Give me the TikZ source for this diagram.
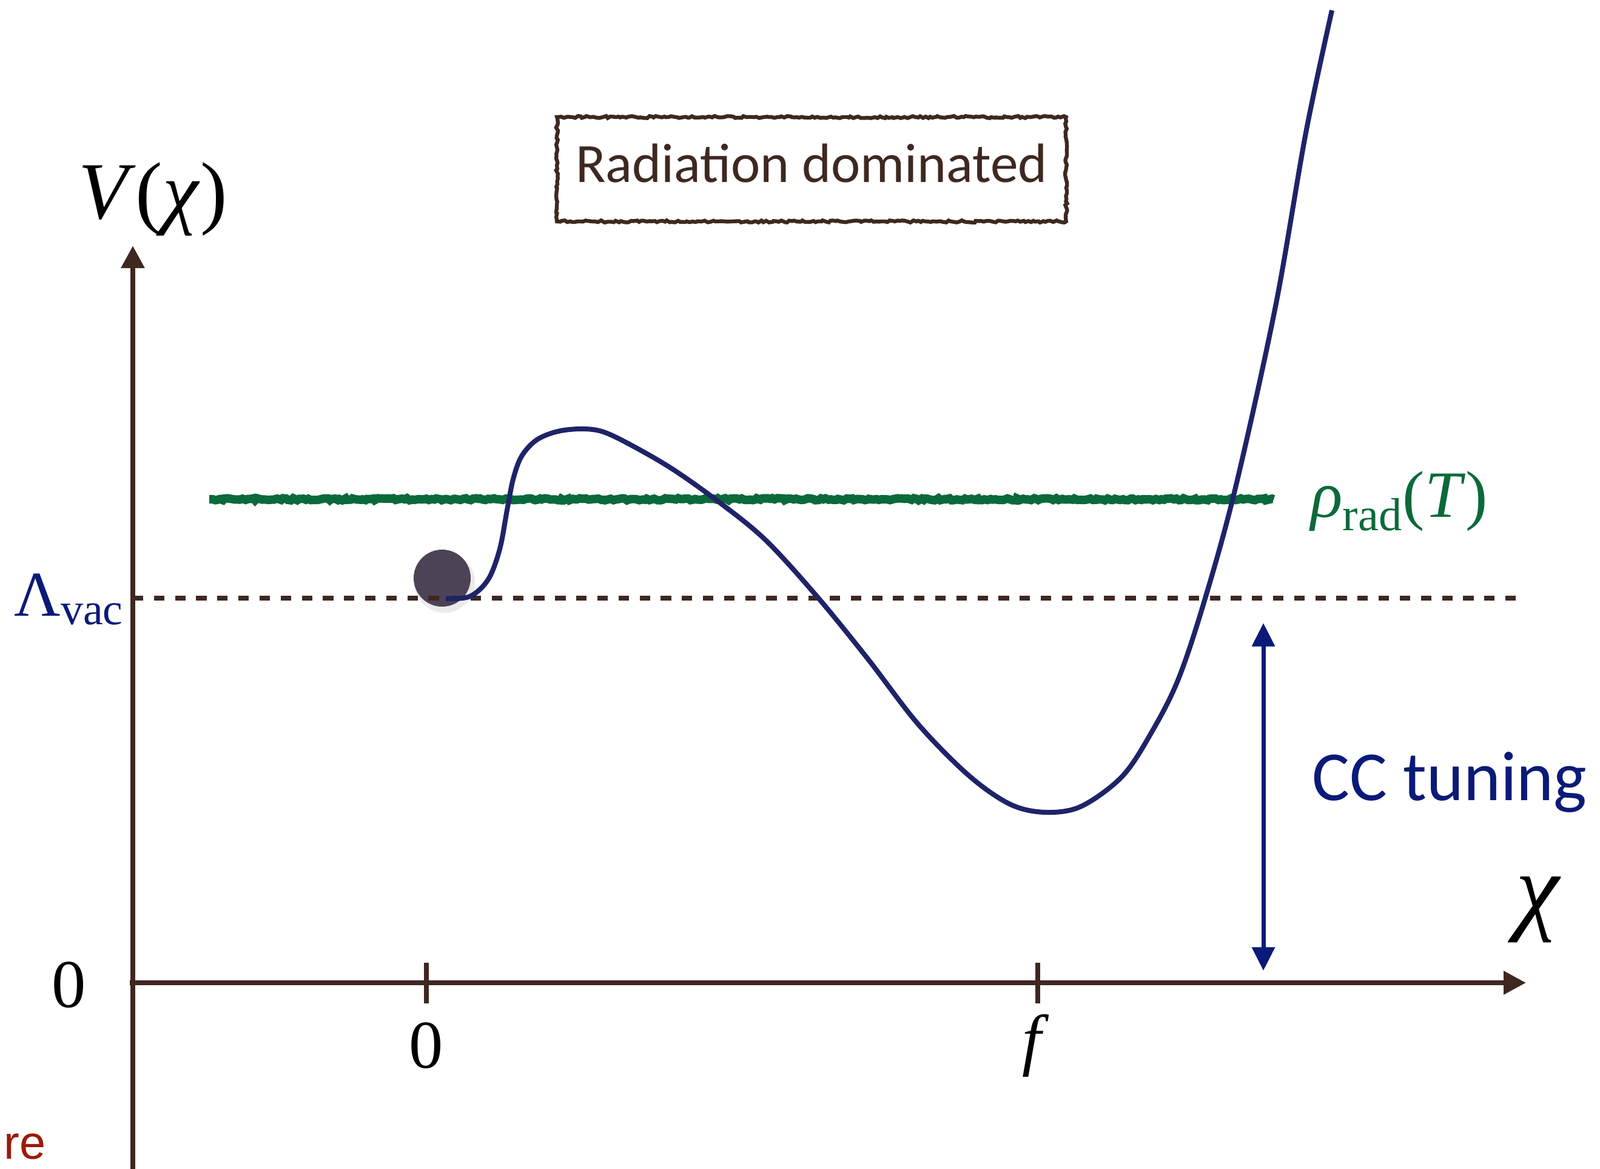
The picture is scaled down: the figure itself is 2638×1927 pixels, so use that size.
\documentclass[tikz,border=0pt]{standalone}
\usepackage{fontspec}
\usepackage{xcolor}
\usepackage{tikz}
\usetikzlibrary{positioning, arrows.meta, calc, decorations.pathmorphing}
\newfontfamily\handfont{Carlito}
\newfontfamily\helvfont{Liberation Sans}
\newfontfamily\timesfont{Liberation Serif}
\definecolor{axisbrown}{HTML}{3E2820}
\definecolor{curvenavy}{HTML}{1F2368}
\definecolor{tunenavy}{HTML}{0A1A78}
\definecolor{radgreen}{HTML}{0B6A3A}
\definecolor{ballgrey}{HTML}{4C4357}
\definecolor{cutred}{HTML}{9A1A0A}

\begin{document}
\begin{tikzpicture}[x=0.01cm, y=-0.01cm,
    axis/.style={draw=axisbrown, line width=2.5pt, -{Triangle[length=10.5pt, width=10.5pt]}},
    tickmark/.style={draw=axisbrown, line width=2.5pt},
    mathlabel/.style={inner sep=0pt, font=\timesfont\fontsize{32}{36}\selectfont},
    rough/.style={decorate, decoration={random steps, segment length=1.2pt, amplitude=0.5pt}}]
  \useasboundingbox (0,0) rectangle (2638,1927);

  % axes
  \coordinate (ybot) at (219,1927);
  \coordinate (ytop) at (219,405);
  \coordinate (xleft) at (214,1620);
  \coordinate (xright) at (2516,1620);
  \draw[axis] (ybot) -- (ytop);
  \draw[axis] (xleft) -- (xright);
  \coordinate (tickzero) at (703,1620);
  \coordinate (tickf) at (1711,1620);
  \draw[tickmark] ($(tickzero)+(0,-33)$) -- ($(tickzero)+(0,34)$);
  \draw[tickmark] ($(tickf)+(0,-33)$) -- ($(tickf)+(0,34)$);

  \node[mathlabel, font=\timesfont\fontsize{38}{42}\selectfont] (vlabel) at (252,328) {\textit{V}(\textit{χ})};
  \node[mathlabel, font=\timesfont\fontsize{46}{50}\selectfont] (chilabel) at (2537,1500) {\textit{χ}};
  \node[mathlabel] (zeroleft) at (114,1624) {0};
  \node[mathlabel] (zerotick) at (703,1724) {0};
  \node[mathlabel] (flabel) at (1708,1724) {\textit{f}};

  % ball sitting in the false vacuum
  \fill[black, opacity=0.08] (733,960) circle (50);
  \fill[ballgrey] (729,953) circle (47);

  % vacuum energy and radiation levels
  \coordinate (vacl) at (219,986);
  \coordinate (vacr) at (2510,986);
  \draw[axisbrown, line width=2.5pt, dash pattern=on 4.9pt off 5pt] (vacl) -- (vacr);
  \node[mathlabel, text=tunenavy, font=\timesfont\fontsize{30}{34}\selectfont] (lvac) at (114,988) {Λ\textsubscript{vac}};

  \coordinate (radl) at (345,823);
  \coordinate (radr) at (2100,823);
  \draw[radgreen, line width=4pt, rough] (radl) -- (radr);
  \node[mathlabel, text=radgreen, font=\timesfont\fontsize{31}{35}\selectfont] (rholabel) at (2307,826) {\textit{ρ}\textsubscript{rad}(\textit{T})};

  % potential
  \draw[curvenavy, line width=2.3pt] plot[smooth, tension=0.55] coordinates {
    (735,987) (775,983) (805,955) (824,905) (836,841) (846,790) (860,752)
    (885,725) (920,711) (960,707) (995,712) (1043,735) (1110,774) (1186,828)
    (1262,890) (1346,982) (1430,1085) (1514,1194) (1598,1279) (1666,1326)
    (1724,1339) (1783,1329) (1851,1279) (1901,1203) (1943,1119) (1985,993)
    (2036,808) (2103,505) (2153,219) (2196,17)};

  % tuning arrow
  \coordinate (tunetop) at (2083,1027);
  \coordinate (tunebot) at (2083,1600);
  \draw[tunenavy, line width=2pt, {Triangle[length=11pt, width=10.5pt]}-{Triangle[length=11pt, width=10.5pt]}] (tunetop) -- (tunebot);
  \node[inner sep=0pt, text=tunenavy, font=\handfont\fontsize{33}{37}\selectfont] (tuning) at (2390,1290) {CC tuning};

  \node[draw=axisbrown, line width=1.8pt, rough, minimum width=8.39cm, minimum height=1.72cm,
        text depth=0.2cm, text=axisbrown, font=\handfont\fontsize{26}{30}\selectfont] (regime) at (1338,279)
    {Radiation dominated};

  \node[anchor=base west, inner sep=0pt, text=cutred, font=\helvfont\fontsize{22}{26}\selectfont] (cut) at (6,1910) {re};
\end{tikzpicture}
\end{document}
